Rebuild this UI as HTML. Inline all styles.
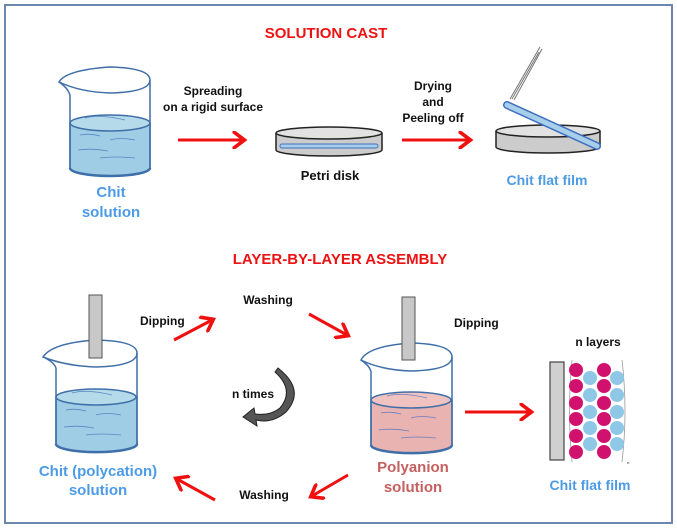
<!DOCTYPE html>
<html><head><meta charset="utf-8"><style>
html,body{margin:0;padding:0;background:#fff}
svg{display:block}
text{font-family:"Liberation Sans",Arial,sans-serif;font-weight:bold}
</style></head><body>
<svg width="677" height="528" viewBox="0 0 677 528" xmlns="http://www.w3.org/2000/svg">
<defs>
<marker id="ah" markerWidth="5" markerHeight="6" refX="3.5" refY="3" orient="auto" markerUnits="strokeWidth">
<path d="M0,0 L4,3 L0,6" fill="none" stroke="#f01010" stroke-width="1.2"/>
</marker>
</defs>
<rect x="5" y="5" width="667" height="518" fill="#fff" stroke="#6a86ad" stroke-width="2"/>

<text x="326" y="38" font-size="15" fill="#ee1111" text-anchor="middle">SOLUTION CAST</text>

<!-- beaker 1 -->
<g stroke="#3f6fa8" stroke-width="1.5">
<path d="M70,123 L70,168 A40,8 0 0 0 150,168 L150,123 Z" fill="#9fcde6"/>
<ellipse cx="110" cy="123" rx="40" ry="8" fill="#b5daea"/>
<path d="M70,168 A40,8 0 0 0 150,168" fill="none" stroke-width="2.5"/>
<path d="M150,80 L150,168 M70,95 L70,168" fill="none"/>
<path d="M59,82 Q66,70 110,67 Q150,68 150,80 Q150,92 110,93 Q80,92 59,82 Z M59,82 Q68,88 70,95" fill="none"/>
</g>
<g stroke="#5a86c0" stroke-width="0.8" fill="none">
<path d="M80,135 q10,-2 20,1 M110,140 q10,-3 25,0 M78,150 q15,-2 30,1 M100,158 q15,-2 35,0 M85,118 q15,-4 40,2"/>
</g>
<text x="111" y="197" font-size="15" fill="#4c9be6" text-anchor="middle">Chit</text>
<text x="111" y="217" font-size="15" fill="#4c9be6" text-anchor="middle">solution</text>

<text x="213" y="95" font-size="12" fill="#111" text-anchor="middle">Spreading</text>
<text x="213" y="111" font-size="12" fill="#111" text-anchor="middle">on a rigid surface</text>
<line x1="178" y1="140" x2="243" y2="140" stroke="#f01010" stroke-width="3" marker-end="url(#ah)"/>

<!-- petri 1 -->
<g stroke="#222" stroke-width="1.5">
<path d="M276,133 L276,150 A53,6 0 0 0 382,150 L382,133" fill="#ccc"/>
<ellipse cx="329" cy="133" rx="53" ry="6" fill="#e2e2e2"/>
</g>
<rect x="280" y="144" width="98" height="4" rx="2" fill="#a8cfea" stroke="#3f6fc0" stroke-width="1"/>
<text x="330" y="180" font-size="13" fill="#111" text-anchor="middle">Petri disk</text>

<text x="433" y="90" font-size="12" fill="#111" text-anchor="middle">Drying</text>
<text x="433" y="106" font-size="12" fill="#111" text-anchor="middle">and</text>
<text x="433" y="122" font-size="12" fill="#111" text-anchor="middle">Peeling off</text>
<line x1="402" y1="140" x2="469" y2="140" stroke="#f01010" stroke-width="3" marker-end="url(#ah)"/>

<!-- petri 2 -->
<g stroke="#222" stroke-width="1.5">
<path d="M496,131 L496,147 A52,6 0 0 0 600,147 L600,131" fill="#ccc"/>
<ellipse cx="548" cy="131" rx="52" ry="6" fill="#e2e2e2"/>
</g>
<line x1="507" y1="105" x2="597" y2="146" stroke="#3f6fc0" stroke-width="8" stroke-linecap="round"/>
<line x1="507" y1="105" x2="597" y2="146" stroke="#a8cfea" stroke-width="5" stroke-linecap="round"/>
<path d="M540,47 L510,99 M542,49 L514,100 M539,52 L512,99" stroke="#777" stroke-width="1" fill="none"/>
<text x="547" y="185" font-size="14" fill="#4c9be6" text-anchor="middle">Chit flat film</text>

<text x="340" y="264" font-size="15" fill="#ee1111" text-anchor="middle">LAYER-BY-LAYER ASSEMBLY</text>

<!-- left beaker -->
<g stroke="#3f6fa8" stroke-width="1.5">
<path d="M56,397 L56,444 A40,8 0 0 0 137,444 L137,397 Z" fill="#9fcde6"/>
<ellipse cx="96" cy="397" rx="40" ry="8" fill="#b5daea"/>
<path d="M56,444 A40,8 0 0 0 137,444" fill="none" stroke-width="2.5"/>
<path d="M137,353 L137,444 M56,368 L56,444" fill="none"/>
<path d="M43,357 Q52,343 96,340 Q137,341 137,353 Q137,366 96,367 Q66,366 43,357 Z M43,357 Q54,362 56,368" fill="none"/>
</g>
<g stroke="#5a86c0" stroke-width="0.8" fill="none">
<path d="M66,410 q10,-2 20,1 M96,415 q10,-3 25,0 M64,427 q15,-2 30,1 M86,435 q15,-2 35,0 M72,393 q15,-4 40,2"/>
</g>
<rect x="89" y="295" width="13" height="63" fill="#c8c8c8" stroke="#555" stroke-width="1"/>
<text x="140" y="325" font-size="12" fill="#111">Dipping</text>
<text x="98" y="476" font-size="15" fill="#4c9be6" text-anchor="middle">Chit (polycation)</text>
<text x="98" y="495" font-size="15" fill="#4c9be6" text-anchor="middle">solution</text>

<line x1="174" y1="340" x2="212" y2="320" stroke="#f01010" stroke-width="3" marker-end="url(#ah)"/>
<text x="268" y="304" font-size="12" fill="#111" text-anchor="middle">Washing</text>
<line x1="309" y1="314" x2="347" y2="335" stroke="#f01010" stroke-width="3" marker-end="url(#ah)"/>

<!-- middle beaker -->
<g stroke="#3f6fa8" stroke-width="1.5">
<path d="M371,400 L371,445 A40,8 0 0 0 452,445 L452,400 Z" fill="#e9b3b2"/>
<ellipse cx="411" cy="400" rx="40" ry="8" fill="#f0c2c0"/>
<path d="M371,445 A40,8 0 0 0 452,445" fill="none" stroke-width="2.5"/>
<path d="M452,357 L452,445 M371,372 L371,445" fill="none"/>
<path d="M361,360 Q368,346 411,343 Q452,344 452,357 Q452,370 411,371 Q381,370 361,360 Z M361,360 Q370,366 371,372" fill="none"/>
</g>
<g stroke="#6a7fc0" stroke-width="0.8" fill="none">
<path d="M381,413 q10,-2 20,1 M411,418 q10,-3 25,0 M379,430 q15,-2 30,1 M401,438 q15,-2 35,0 M387,396 q15,-4 40,2"/>
</g>
<rect x="402" y="297" width="13" height="63" fill="#c8c8c8" stroke="#555" stroke-width="1"/>
<text x="454" y="327" font-size="12" fill="#111">Dipping</text>
<text x="413" y="472" font-size="15" fill="#c4605f" text-anchor="middle">Polyanion</text>
<text x="413" y="492" font-size="15" fill="#c4605f" text-anchor="middle">solution</text>

<line x1="465" y1="412" x2="530" y2="412" stroke="#f01010" stroke-width="3" marker-end="url(#ah)"/>

<!-- n times curved arrow -->
<text x="253" y="398" font-size="12" fill="#111" text-anchor="middle">n times</text>
<path d="M278,368 Q306,390 286,412 Q272,424 256,420 L257,426 L243,417 L254,408 L255,414 Q270,416 280,408 Q295,390 275,372 Z" fill="#555" stroke="#222" stroke-width="1"/>

<line x1="348" y1="475" x2="312" y2="496" stroke="#f01010" stroke-width="3" marker-end="url(#ah)"/>
<text x="264" y="499" font-size="12" fill="#111" text-anchor="middle">Washing</text>
<line x1="215" y1="500" x2="177" y2="479" stroke="#f01010" stroke-width="3" marker-end="url(#ah)"/>

<!-- layered film -->
<text x="598" y="346" font-size="12" fill="#111" text-anchor="middle">n layers</text>
<rect x="550" y="362" width="14" height="98" fill="#d0d0d0" stroke="#444" stroke-width="1.2"/>
<path d="M572,360 Q567,411 572,462 M622,360 Q628,411 622,462" stroke="#999" stroke-width="0.8" fill="none"/>
<text x="627" y="464" font-size="4" fill="#666" font-weight="normal">n</text>
<g fill="#8fc8e6">
<circle cx="590" cy="378" r="7"/><circle cx="590" cy="395" r="7"/><circle cx="590" cy="412" r="7"/><circle cx="590" cy="428" r="7"/><circle cx="590" cy="444" r="7"/>
<circle cx="617" cy="378" r="7"/><circle cx="617" cy="395" r="7"/><circle cx="617" cy="412" r="7"/><circle cx="617" cy="428" r="7"/><circle cx="617" cy="444" r="7"/>
</g>
<g fill="#d0116e">
<circle cx="576" cy="370" r="7"/><circle cx="576" cy="386" r="7"/><circle cx="576" cy="403" r="7"/><circle cx="576" cy="419" r="7"/><circle cx="576" cy="436" r="7"/><circle cx="576" cy="452" r="7"/>
<circle cx="604" cy="370" r="7"/><circle cx="604" cy="386" r="7"/><circle cx="604" cy="403" r="7"/><circle cx="604" cy="419" r="7"/><circle cx="604" cy="436" r="7"/><circle cx="604" cy="452" r="7"/>
</g>
<text x="590" y="490" font-size="14" fill="#4c9be6" text-anchor="middle">Chit flat film</text>
</svg>
</body></html>
